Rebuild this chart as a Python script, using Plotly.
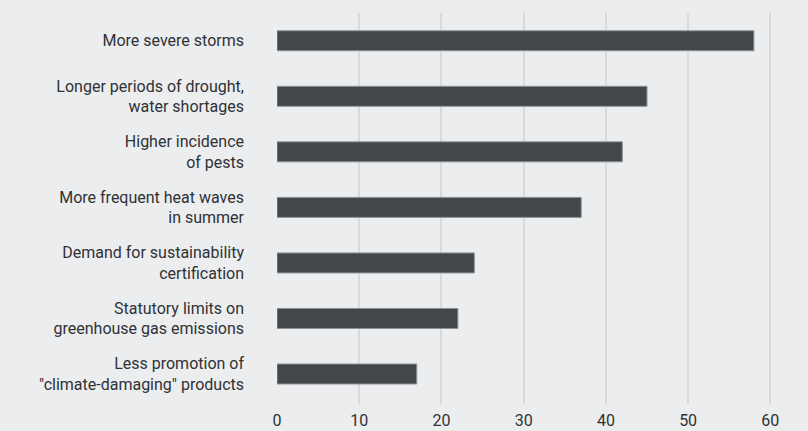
import plotly.graph_objects as go

categories = [
    "More severe storms",
    "Longer periods of drought,<br>water shortages",
    "Higher incidence<br>of pests",
    "More frequent heat waves<br>in summer",
    "Demand for sustainability<br>certification",
    "Statutory limits on<br>greenhouse gas emissions",
    "Less promotion of<br>\"climate-damaging\" products",
]
values = [58, 45, 42, 37, 24, 22, 17]
x_ticks = [0, 10, 20, 30, 40, 50, 60]

BG = "#ecedef"
fig = go.Figure(go.Bar(
    x=values, y=categories, orientation="h",
    width=0.36,
    marker=dict(color="#42474b", line=dict(color="#8e9295", width=1)),
    hoverinfo="skip",
))

fig.update_layout(
    width=808, height=431,
    margin=dict(l=277, r=13, t=13, b=27, pad=0, autoexpand=False),
    paper_bgcolor=BG, plot_bgcolor=BG,
    font=dict(family="Roboto, Inter, sans-serif", size=16, color="#2f3235"),
    showlegend=False,
)
fig.update_xaxes(
    range=[0, 63], tickvals=x_ticks, ticktext=[str(v) for v in x_ticks],
    showgrid=True, gridcolor="#d9dadc", gridwidth=1.5,
    zeroline=False, showline=False, ticks="",
    automargin=False,
    ticklabelstandoff=5,
    tickfont=dict(size=16, color="#2f3235"),
)
fig.update_yaxes(
    type="category", categoryorder="array", categoryarray=categories,
    range=[6.54, -0.5],
    showgrid=False, zeroline=False, showline=False, ticks="",
    automargin=False,
    ticklabelstandoff=32,
    tickfont=dict(size=16, color="#2f3235"),
)

fig.write_html("out.html")
